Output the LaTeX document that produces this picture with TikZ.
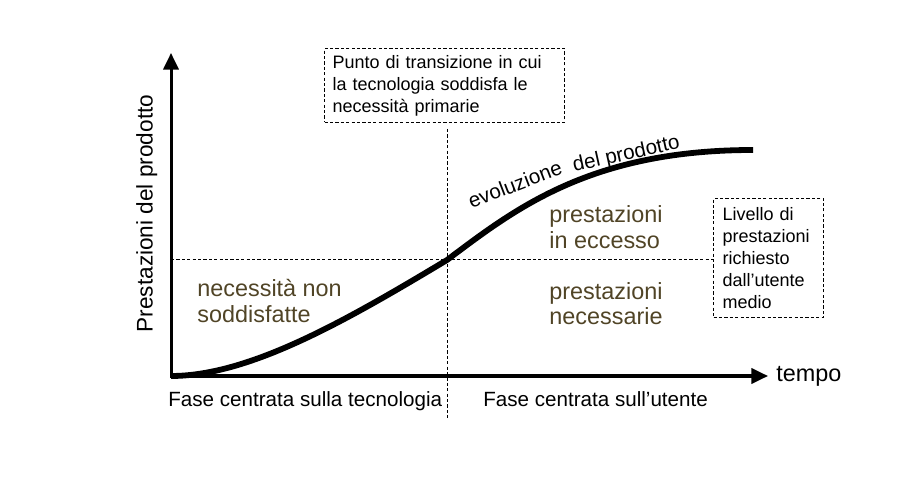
\documentclass[tikz,border=0pt]{standalone}
\usepackage{fontspec}
\setmainfont{Liberation Sans}
\usepackage{tikz}
\usetikzlibrary{arrows.meta,positioning}
\definecolor{bruno}{RGB}{80,68,38}
\newcommand{\fgrande}{\fontsize{11.7pt}{13pt}\selectfont}
\newcommand{\fmedio}{\fontsize{10.3pt}{12pt}\selectfont}
\newcommand{\fpiccolo}{\fontsize{9pt}{11pt}\selectfont}
\tikzset{
  asse/.style={line width=1.5pt,line cap=rect,-{Triangle[length=8.3pt,width=7.6pt]}},
  curva/.style={line width=2.9pt},
  tratto/.style={line width=0.5pt,dash pattern=on 1.6pt off 1.1pt},
  riquadro/.style={draw,tratto,align=left,inner xsep=4pt,inner ysep=0pt,anchor=north west,font=\fpiccolo},
  zona/.style={anchor=base west,align=left,inner sep=0pt,text=bruno,font=\fgrande},
  fase/.style={anchor=base west,inner sep=0pt,font=\fmedio},
}

\begin{document}
\begin{tikzpicture}[x=0.5pt,y=-0.5pt]
  \useasboundingbox (0,0) rectangle (920,491);
  \pgfmathsetmacro{\yasse}{376}
  \pgfmathsetmacro{\xasse}{171}

  \coordinate (o) at (\xasse,\yasse);
  \coordinate (p) at (447,260);
  \coordinate (ytop) at (\xasse,53);
  \coordinate (xend) at (768,\yasse);
  \coordinate (fine) at (753,150);

  \node[riquadro,text width=112pt,minimum height=37pt] (punto) at (324,48)
    {Punto di transizione in cui\\la tecnologia soddisfa le\\necessità primarie};
  \node[riquadro,text width=46pt,minimum height=59.5pt,inner xsep=4.5pt] (livello) at (713,198)
    {Livello di\\prestazioni\\richiesto\\dall’utente\\medio};

  % linee tratteggiate
  \coordinate (cima) at (447,129);
  \coordinate (fondo) at (447,420);
  \draw[tratto] (o |- p) -- (livello.west |- p);
  \draw[tratto] (cima) -- (fondo);

  % assi
  \draw[asse] (o) -- (ytop);
  \draw[asse] (o) -- (xend);
  \node[anchor=base west,inner sep=0pt,font=\fgrande] (tempo) at (776,381) {tempo};
  \node[rotate=90,anchor=base,inner sep=0pt,font=\fontsize{11.3pt}{13pt}\selectfont] (prest) at (152.7,213.5)
    {Prestazioni del prodotto};

  % curva
  \draw[curva] (o) .. controls (250,376) and (347,320) .. (p)
    .. controls (515,209) and (590,150) .. (fine);
  \node[rotate=21,anchor=base,inner sep=0pt,font=\fmedio] (evo) at (517.5,191) {evoluzione};
  \node[rotate=12.5,anchor=base,inner sep=0pt,font=\fmedio] (delprod) at (627.5,160) {del prodotto};

  % il baseline del nodo e' quello dell'ultima riga
  \node[zona] (nonsodd) at (197,322.7) {necessità non\\soddisfatte};
  \node[zona] (eccesso) at (549,248.3) {prestazioni\\in eccesso};
  \node[zona] (necess) at (549,325) {prestazioni\\necessarie};

  \node[fase] (fasetec) at (168,406.7) {Fase centrata sulla tecnologia};
  \node[fase] (faseut) at (483,406.7) {Fase centrata sull’utente};
\end{tikzpicture}
\end{document}
